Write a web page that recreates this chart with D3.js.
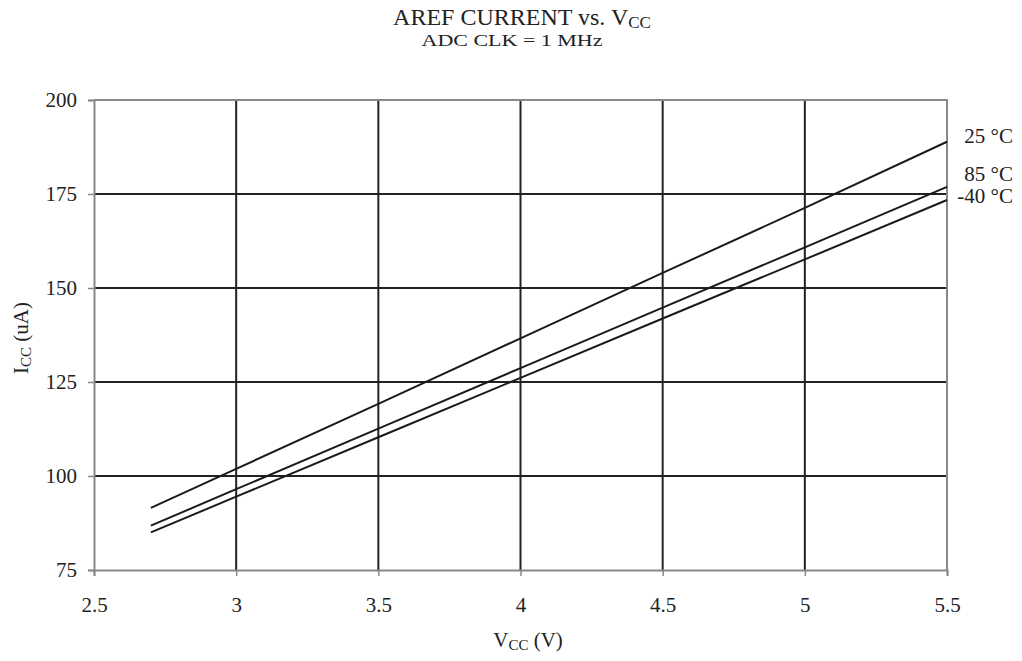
<!DOCTYPE html>
<html><head><meta charset="utf-8">
<script src="https://cdn.jsdelivr.net/npm/d3@7"></script>
<style>body{margin:0;background:#fff}svg{display:block}text{font-family:"Liberation Serif","Times New Roman",serif;fill:#222}</style>
</head><body>
<script>
const vcc = [2.7, 3.0, 3.5, 4.0, 4.5, 5.0, 5.5];
const t25 = [91.5, 101.9, 119.2, 136.6, 154.0, 171.3, 188.9];
const t85 = [86.8, 96.5, 112.6, 128.7, 144.8, 160.8, 176.9];
const tm40 = [85.0, 94.5, 110.3, 126.1, 141.9, 157.6, 173.4];
const seriesNames = ["25 °C", "85 °C", "-40 °C"];
const xTicks = [2.5, 3, 3.5, 4, 4.5, 5, 5.5];
const yTicks = [75, 100, 125, 150, 175, 200];
const labelY = [136, 174, 196];

const W = 1022, H = 661;
const svg = d3.select("body").append("svg").attr("width", W).attr("height", H);
const x = d3.scaleLinear().domain([2.5, 5.5]).range([94, 947]);
const y = d3.scaleLinear().domain([75, 200]).range([570, 100]);

// grid
svg.append("g").selectAll("line").data(yTicks.filter(d => d > 75 && d < 200)).join("line")
  .attr("x1", x(2.5)).attr("x2", x(5.5)).attr("y1", d => y(d)).attr("y2", d => y(d))
  .attr("stroke", "#222").attr("stroke-width", 2);
svg.append("g").selectAll("line").data(xTicks.filter(d => d > 2.5 && d < 5.5)).join("line")
  .attr("x1", d => x(d)).attr("x2", d => x(d)).attr("y1", y(200)).attr("y2", y(75))
  .attr("stroke", "#222").attr("stroke-width", 2);

// border (top/right)
svg.append("path").attr("d", `M${x(2.5)},${y(200)}H${x(5.5)}V${y(75)}`)
  .attr("fill", "none").attr("stroke", "#888").attr("stroke-width", 2);

// axes
const ax = svg.append("g").attr("transform", `translate(0,${y(75)})`)
  .call(d3.axisBottom(x).tickValues(xTicks).tickSize(6).tickPadding(21).tickFormat(d3.format("")));
const ay = svg.append("g").attr("transform", `translate(${x(2.5)},0)`)
  .call(d3.axisLeft(y).tickValues(yTicks).tickSize(6).tickPadding(11));
[ax, ay].forEach(g => {
  g.select(".domain").attr("stroke", "#888").attr("stroke-width", 2);
  g.selectAll(".tick line").attr("stroke", "#888").attr("stroke-width", 1.5);
  g.selectAll(".tick text").attr("font-size", 21).attr("font-family", '"Liberation Serif",serif').attr("fill", "#222");
});

// lines
const line = d3.line().x((d, i) => x(vcc[i])).y(d => y(d));
[t25, t85, tm40].forEach(s => {
  svg.append("path").attr("d", line(s)).attr("fill", "none").attr("stroke", "#1a1a1a").attr("stroke-width", 2);
});

// series labels
svg.append("g").selectAll("text").data(seriesNames).join("text")
  .attr("x", 1013).attr("y", (d, i) => labelY[i]).attr("dy", "0.35em")
  .attr("text-anchor", "end").attr("font-size", 21).text(d => d);

// title
const t = svg.append("text").attr("x", 522).attr("y", 25).attr("text-anchor", "middle").attr("font-size", 24);
t.append("tspan").text("AREF CURRENT vs. V");
t.append("tspan").attr("font-size", 17).attr("dy", 3).text("CC");
svg.append("text").attr("x", 512).attr("y", 46).attr("text-anchor", "middle").attr("font-size", 17)
  .attr("textLength", 181).attr("lengthAdjust", "spacingAndGlyphs").text("ADC CLK = 1 MHz");

// x label
const xl = svg.append("text").attr("x", 528).attr("y", 647).attr("text-anchor", "middle").attr("font-size", 21);
xl.append("tspan").text("V");
xl.append("tspan").attr("font-size", 15).attr("dy", 3).text("CC");
xl.append("tspan").attr("dy", -3).text(" (V)");

// y label
const yl = svg.append("text").attr("transform", "translate(28,338) rotate(-90)").attr("text-anchor", "middle").attr("font-size", 21);
yl.append("tspan").text("I");
yl.append("tspan").attr("font-size", 15).attr("dy", 3).text("CC");
yl.append("tspan").attr("dy", -3).text(" (uA)");
</script>
</body></html>
